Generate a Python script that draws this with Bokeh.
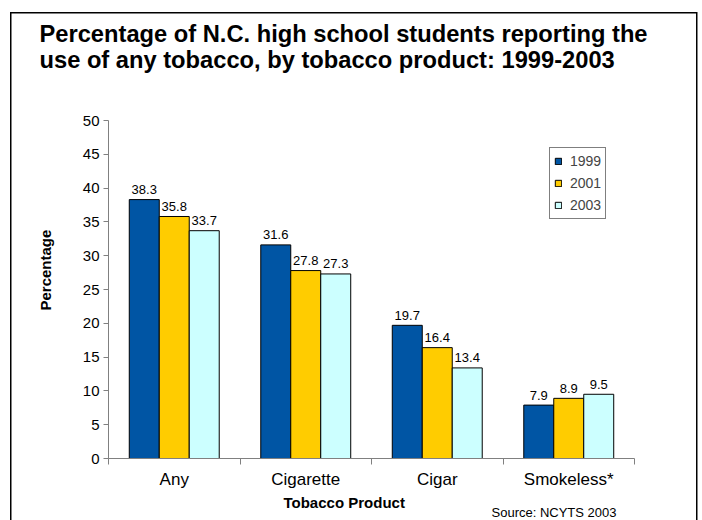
from bokeh.plotting import figure
from bokeh.models import (Range1d, FixedTicker, Legend, LegendItem,
                          ColumnDataSource, Title)
from bokeh.core.properties import value
from bokeh.embed import file_html
from bokeh.resources import INLINE

# ---------------- data ----------------
categories = ["Any", "Cigarette", "Cigar", "Smokeless*"]
years = ["1999", "2001", "2003"]
values_1999 = [38.3, 31.6, 19.7, 7.9]
values_2001 = [35.8, 27.8, 16.4, 8.9]
values_2003 = [33.7, 27.3, 13.4, 9.5]
series = [values_1999, values_2001, values_2003]
y_ticks = [0, 5, 10, 15, 20, 25, 30, 35, 40, 45, 50]

title_line1 = "Percentage of N.C. high school students reporting the"
title_line2 = "use of any tobacco, by tobacco product: 1999-2003"
x_title = "Tobacco Product"
y_title = "Percentage"
source_note = "Source: NCYTS 2003"

# ---------------- style ----------------
colors = ["#0055A4", "#FFCC00", "#CCFFFF"]
FONT = "Liberation Sans"
AXIS_GRAY = "#808080"

W, H = 702, 520
FL, FR, FT, FB = 108, 634, 120, 458   # plot frame in page px
Y_MAX = 50
N = len(categories)

p = figure(width=W, height=H, x_range=Range1d(0, N), y_range=Range1d(0, Y_MAX),
           output_backend="svg", toolbar_location=None,
           min_border_left=FL, min_border_right=W - FR,
           min_border_top=FT, min_border_bottom=H - FB)
p.outline_line_color = None
p.grid.visible = False
p.background_fill_color = "white"
p.border_fill_color = None
# outer frame of the chart (left, top, right edges) drawn as inset shadows
p.styles = {
    "background-color": "white",
    "box-shadow": ("inset 10px 0 0 white, inset 0 12px 0 white, inset -4.5px 0 0 white, "
                   "inset 11.5px 0 0 black, inset 0 13.5px 0 black, inset -6px 0 0 black"),
}

bar_w = 0.228
offsets = [-bar_w, 0.0, bar_w]
legend_items = []
for yr, vals, col, off in zip(years, series, colors, offsets):
    xs = [i + 0.5 + off for i in range(N)]
    src = ColumnDataSource(dict(x=xs, top=vals, lab=[f"{v:.1f}" for v in vals]))
    r = p.vbar(x="x", top="top", width=bar_w, bottom=0, source=src,
               fill_color=col, line_color="black", line_width=1)
    p.text(x="x", y="top", text="lab", source=src, text_align="center",
           text_baseline="alphabetic", y_offset=-10,
           text_font=value(FONT), text_font_size="13px", text_color="black")
    legend_items.append(LegendItem(label=yr, renderers=[r]))

# axes
xa = p.xaxis[0]
xa.ticker = FixedTicker(ticks=[i + 0.5 for i in range(N)],
                        minor_ticks=list(range(N + 1)))
xa.major_label_overrides = {i + 0.5: c for i, c in enumerate(categories)}
xa.major_tick_line_color = None
xa.major_tick_in = 0
xa.major_tick_out = 0
xa.minor_tick_in = 0
xa.minor_tick_out = 6
xa.minor_tick_line_color = AXIS_GRAY
xa.axis_line_color = AXIS_GRAY
xa.major_label_standoff = 5
xa.major_label_text_font = FONT
xa.major_label_text_font_size = "17px"
xa.major_label_text_color = "black"

ya = p.yaxis[0]
ya.ticker = FixedTicker(ticks=y_ticks, minor_ticks=[])
ya.major_tick_in = 0
ya.major_tick_out = 5
ya.major_tick_line_color = AXIS_GRAY
ya.minor_tick_line_color = None
ya.axis_line_color = AXIS_GRAY
ya.major_label_standoff = 4
ya.major_label_text_font = FONT
ya.major_label_text_font_size = "15px"
ya.major_label_text_color = "black"

# legend
legend = Legend(items=legend_items, location=(549 - FL, FB - 219))
legend.border_line_color = "black"
legend.border_line_width = 1
legend.background_fill_color = "white"
legend.padding = 4
legend.margin = 0
legend.spacing = 4
legend.label_height = 18
legend.glyph_width = 8
legend.glyph_height = 8
legend.label_standoff = 8
legend.label_text_font = FONT
legend.label_text_font_size = "14px"
p.add_layout(legend, "center")

# titles (above: first added is nearest the plot); a blank spacer keeps the gap
p.add_layout(Title(text=" ", standoff=46, text_font=FONT, text_font_size="1px"), "above")
for line in (title_line2, title_line1):
    p.add_layout(Title(text=line, align="left", offset=39 - FL, standoff=-2,
                       text_font=FONT, text_font_size="23.7px", text_font_style="bold",
                       text_color="black"), "above")

# y axis title
p.add_layout(Title(text=y_title, align="left", offset=148, standoff=51,
                   text_font=FONT, text_font_size="15px", text_font_style="bold",
                   text_color="black"), "left")

# x axis title and source note
p.add_layout(Title(text=x_title, align="left", offset=283 - FL, standoff=0,
                   text_font=FONT, text_font_size="15px", text_font_style="bold",
                   text_color="black"), "below")
p.add_layout(Title(text=source_note, align="left", offset=491 - FL, standoff=-15,
                   text_font=FONT, text_font_size="13px", text_font_style="normal",
                   text_color="black"), "below")

open("out.html", "w").write(file_html(p, INLINE))
